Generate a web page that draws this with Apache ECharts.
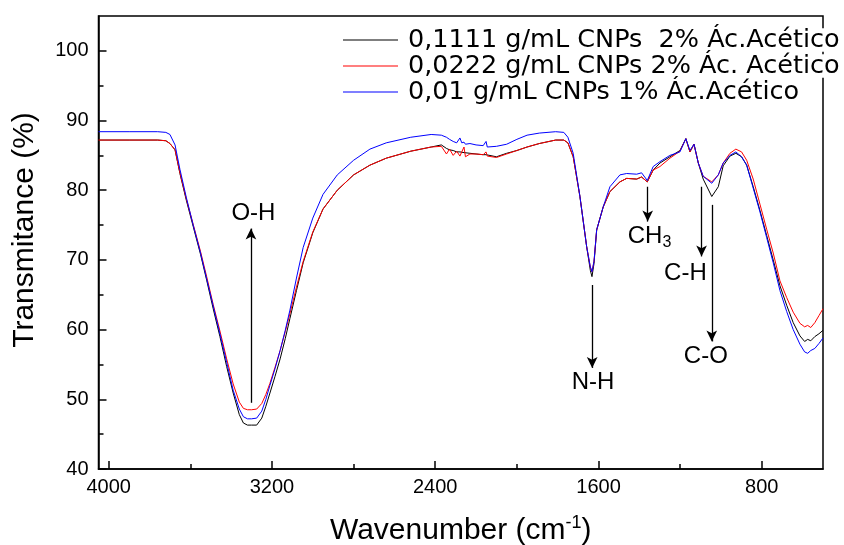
<!DOCTYPE html>
<html>
<head>
    <meta charset="utf-8">
    <title>FTIR</title>
    <script src="https://cdn.jsdelivr.net/npm/echarts@6/dist/echarts.min.js"></script>
    <style>
        html, body { margin: 0; padding: 0; background: #fff; }
    </style>
</head>
<body>
<div id="main" style="width: 844px;height:545px;"></div>
<script type="text/javascript">
    // wavenumber (cm-1), shared by the three spectra
    var wavenumber = [
        4050, 3900, 3760, 3720, 3700, 3675, 3651, 3620, 3586, 3550,
        3520, 3488, 3455, 3422, 3390, 3360, 3340, 3320, 3300, 3275,
        3250, 3230, 3210, 3185, 3160, 3135, 3112, 3080, 3047, 3000,
        2950, 2880, 2800, 2720, 2640, 2520, 2420, 2370, 2345, 2330,
        2312, 2295, 2279, 2270, 2259, 2252, 2230, 2200, 2165, 2151,
        2145, 2100, 2050, 2000, 1950, 1890, 1810, 1770, 1750, 1724,
        1691, 1658, 1640, 1632, 1622, 1609, 1577, 1544, 1495, 1462,
        1413, 1389, 1361, 1332, 1299, 1250, 1201, 1172, 1152, 1132,
        1111, 1087, 1045, 1013, 989, 956, 927, 899, 874, 842,
        809, 776, 744, 711, 678, 646, 613, 590, 575, 560,
        540, 520, 500
    ];
    // 0,1111 g/mL CNPs 2% (black)
    var tBlack = [
        87.2, 87.2, 87.2, 87.1, 86.7, 85.8, 82.4, 78.6, 74.8, 70.8,
        67.1, 63.0, 59.0, 54.7, 50.9, 47.8, 46.6, 46.3, 46.3, 46.3,
        47.3, 49.0, 50.9, 53.3, 55.8, 58.7, 61.6, 65.6, 69.6, 73.9,
        77.3, 80.0, 82.2, 83.6, 84.6, 85.6, 86.2, 86.5, 86.0, 85.8,
        85.7, 85.5, 85.5, 85.4, 85.4, 85.4, 85.3, 85.2, 85.1, 85.1,
        85.0, 84.8, 85.3, 85.7, 86.2, 86.7, 87.2, 87.2, 86.8, 84.8,
        79.1, 71.9, 68.5, 67.6, 69.5, 74.3, 77.6, 79.8, 81.2, 81.7,
        81.6, 81.9, 81.2, 82.9, 83.9, 84.8, 85.7, 87.4, 85.5, 86.6,
        83.9, 81.6, 79.1, 80.5, 83.5, 84.9, 85.3, 84.8, 83.6, 80.5,
        77.1, 73.5, 70.0, 66.3, 63.5, 61.0, 59.1, 58.3, 58.6, 58.4,
        59.0, 59.4, 59.9
    ];
    // 0,0222 g/mL CNPs 2% (red)
    var tRed = [
        87.2, 87.2, 87.2, 87.1, 86.7, 85.8, 82.5, 78.8, 75.1, 71.2,
        67.6, 63.6, 59.8, 55.8, 52.2, 49.6, 48.7, 48.5, 48.5, 48.6,
        49.4, 50.7, 52.3, 54.6, 57.0, 59.7, 62.3, 66.1, 69.8, 74.0,
        77.3, 80.0, 82.2, 83.6, 84.6, 85.6, 86.2, 86.3, 85.2, 85.9,
        85.0, 85.6, 84.9, 85.5, 86.2, 84.8, 85.2, 85.2, 85.1, 85.5,
        84.9, 84.7, 85.2, 85.7, 86.2, 86.7, 87.2, 87.2, 86.8, 84.8,
        79.1, 71.9, 69.0, 68.3, 69.8, 74.3, 77.6, 79.8, 81.2, 81.7,
        81.6, 81.9, 81.2, 82.9, 83.4, 84.6, 85.6, 87.4, 85.5, 86.6,
        83.9, 82.0, 81.2, 82.2, 83.9, 85.3, 85.9, 85.5, 84.3, 81.6,
        78.0, 74.4, 71.0, 67.0, 64.6, 62.5, 60.9, 60.4, 60.6, 60.3,
        61.0, 62.0, 63.0
    ];
    // 0,01 g/mL CNPs 1% (blue)
    var tBlue = [
        88.4, 88.4, 88.4, 88.3, 88.0, 86.5, 83.0, 79.0, 75.0, 71.0,
        67.3, 63.4, 59.4, 55.3, 51.3, 48.6, 47.5, 47.2, 47.2, 47.3,
        48.3, 50.0, 52.0, 54.4, 57.0, 59.9, 62.8, 67.4, 71.8, 76.0,
        79.4, 82.2, 84.3, 85.9, 86.8, 87.6, 88.0, 87.9, 87.6, 87.3,
        87.0, 86.8, 87.5, 86.8, 86.9, 86.6, 86.7, 86.5, 86.4, 87.0,
        86.2, 86.3, 86.6, 87.3, 87.9, 88.2, 88.4, 88.3, 87.6, 85.3,
        79.1, 71.9, 69.0, 68.3, 69.8, 74.3, 77.6, 80.5, 82.2, 82.4,
        82.3, 82.5, 81.4, 83.4, 84.1, 85.0, 85.5, 87.4, 85.7, 86.6,
        83.9, 82.0, 81.0, 82.2, 83.9, 85.0, 85.5, 84.8, 83.6, 80.3,
        76.9, 73.2, 69.6, 65.6, 62.6, 60.0, 57.9, 56.8, 56.6, 57.0,
        57.3, 58.0, 58.8
    ];
    var seriesNames = ['0,1111 g/mL CNPs  2% Ác.Acético', '0,0222 g/mL CNPs 2% Ác. Acético', '0,01 g/mL CNPs 1% Ác.Acético'];
    var seriesColors = ['#000000', '#ff0000', '#0000ff'];

    var xMajorTicks = [800, 1600, 2400, 3200, 4000];
    var xMinorTicks = [1200, 2000, 2800, 3600];
    var yMajorTicks = [40, 50, 60, 70, 80, 90, 100];
    var yMinorTicks = [45, 55, 65, 75, 85, 95];

    // arrows: [wavenumber, from T, to T]
    var arrows = [
        [3303, 49.5, 74.5],
        [1631, 66.4, 54.5],
        [1359, 80.5, 75.5],
        [1095, 80.5, 70.5],
        [1045, 77.9, 58.3]
    ];
    // band labels: [name, wavenumber, T]
    var bands = [
        ['{a|O-H}', 3291, 76.7],
        ['{a|N-H}', 1627, 52.5],
        ['{a|CH}{s|3}', 1350, 73.4],
        ['{a|C-H}', 1174, 68.1],
        ['{a|C-O}', 1074, 56.1]
    ];

    function pairs(ys) {
        return wavenumber.map(function (w, i) { return [w, ys[i]]; });
    }

    var font = 'Liberation Sans, Arial, sans-serif';
    var seriesData = [tBlack, tRed, tBlue];

    var series = seriesData.map(function (ys, i) {
        return {
            name: seriesNames[i],
            type: 'line',
            symbol: 'none',
            data: pairs(ys),
            lineStyle: { color: seriesColors[i], width: 1 },
            itemStyle: { color: seriesColors[i] },
            silent: true
        };
    });

    series[0].markLine = {
        silent: true,
        symbol: ['none', 'arrow'],
        symbolSize: [8, 11],
        lineStyle: { color: '#000', width: 1.3, type: 'solid' },
        label: { show: false },
        data: arrows.map(function (a) {
            return [{ coord: [a[0], a[1]] }, { coord: [a[0], a[2]] }];
        })
    };
    series[0].markPoint = {
        silent: true,
        symbol: 'circle',
        symbolSize: 0,
        label: {
            show: true,
            position: 'inside',
            formatter: '{b}',
            rich: {
                a: { fontFamily: font, fontSize: 24, color: '#000', lineHeight: 28 },
                s: { fontFamily: font, fontSize: 16, color: '#000', lineHeight: 12, verticalAlign: 'bottom' }
            }
        },
        data: bands.map(function (b) {
            return { name: b[0], coord: [b[1], b[2]] };
        })
    };

    function plain(v) { return String(v); }

    var myChart = echarts.init(document.getElementById('main'));
    myChart.setOption({
        animation: false,
        backgroundColor: '#fff',
        grid: {
            left: 98.5, top: 16, right: 21, bottom: 76,
            outerBoundsMode: 'none',
            containLabel: false,
            show: true, borderColor: '#000', borderWidth: 1.5
        },
        legend: {
            data: seriesNames,
            orient: 'vertical',
            left: 343,
            top: 27,
            padding: 0,
            icon: 'rect',
            itemWidth: 55,
            itemHeight: 1,
            itemGap: 0,
            selectedMode: false,
            textStyle: {
                fontFamily: 'DejaVu Sans',
                fontSize: 25.5,
                color: '#000',
                lineHeight: 23.7,
                backgroundColor: '#fff',
                padding: [0, 0, 0, 5]
            }
        },
        graphic: [{
            type: 'text',
            x: 25,
            y: 230,
            rotation: Math.PI / 2,
            style: {
                text: 'Transmitance (%)',
                fontFamily: font,
                fontSize: 30,
                fill: '#000',
                align: 'center',
                verticalAlign: 'middle'
            }
        }],
        xAxis: [{
            type: 'value',
            min: 500,
            max: 4050,
            inverse: true,
            name: '{a|Wavenumber (cm}{b|-1}{a|)}',
            nameLocation: 'middle',
            nameGap: 45,
            nameTextStyle: {
                rich: {
                    a: { fontFamily: font, fontSize: 30, color: '#000', lineHeight: 34 },
                    b: { fontFamily: font, fontSize: 18, color: '#000', lineHeight: 12, verticalAlign: 'top' }
                }
            },
            axisLine: { lineStyle: { color: '#000', width: 1.5 } },
            axisTick: { inside: true, length: 8, lineStyle: { color: '#000', width: 1.5 }, customValues: xMajorTicks },
            axisLabel: { customValues: xMajorTicks, formatter: plain, margin: 8, fontFamily: font, fontSize: 20, color: '#000' },
            splitLine: { show: false }
        }, {
            type: 'value',
            min: 500,
            max: 4050,
            inverse: true,
            position: 'bottom',
            axisLine: { show: false },
            axisTick: { inside: true, length: 5, lineStyle: { color: '#000', width: 1.5 }, customValues: xMinorTicks },
            axisLabel: { show: false },
            splitLine: { show: false }
        }],
        yAxis: [{
            type: 'value',
            min: 40,
            max: 105,
            axisLine: { show: true, lineStyle: { color: '#000', width: 1.5 } },
            axisTick: { show: true, inside: true, length: 8, lineStyle: { color: '#000', width: 1.5 }, customValues: yMajorTicks },
            axisLabel: { customValues: yMajorTicks, formatter: plain, margin: 10, fontFamily: font, fontSize: 20, color: '#000' },
            splitLine: { show: false }
        }, {
            type: 'value',
            min: 40,
            max: 105,
            position: 'left',
            axisLine: { show: false },
            axisTick: { show: true, inside: true, length: 5, lineStyle: { color: '#000', width: 1.5 }, customValues: yMinorTicks },
            axisLabel: { show: false },
            splitLine: { show: false }
        }],
        series: series
    });
</script>
</body>
</html>
